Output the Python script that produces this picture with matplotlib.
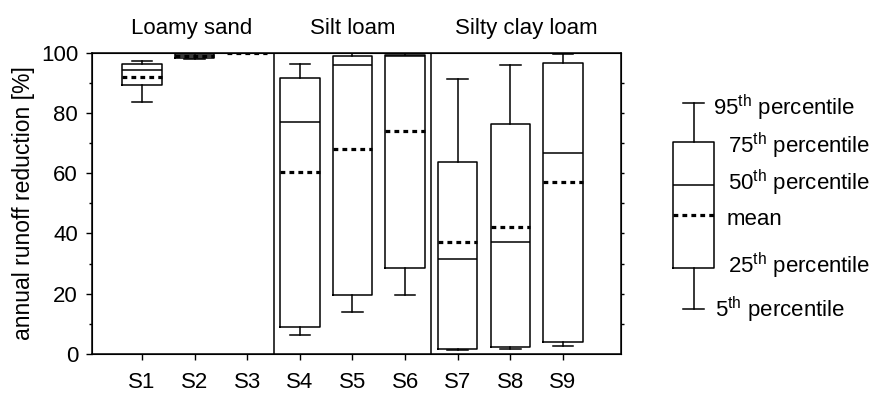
import matplotlib
matplotlib.use("Agg")
import matplotlib.pyplot as plt
import numpy as np

plt.rcParams['font.family'] = ['Liberation Sans', 'DejaVu Sans']
plt.rcParams['mathtext.fontset'] = 'custom'
plt.rcParams['mathtext.rm'] = 'Liberation Sans'
plt.rcParams['mathtext.it'] = 'Liberation Sans'

# ---- data ----
sites = ["S1", "S2", "S3", "S4", "S5", "S6", "S7", "S8", "S9"]
p5 = [83.5, 97.8, 99.8, 6.4, 13.9, 19.5, 1.2, 1.8, 2.8]
p25 = [89.3, 98.1, 99.8, 9.1, 19.7, 28.4, 1.8, 2.4, 4.0]
p50 = [94.3, 99.0, 100.0, 77.1, 95.8, 99.0, 31.5, 37.2, 66.6]
p75 = [96.2, 99.6, 100.0, 91.7, 99.0, 99.3, 63.8, 76.2, 96.6]
p95 = [97.2, 99.8, 100.0, 96.2, 99.8, 99.8, 91.2, 95.9, 99.7]
means = [92.0, 99.0, 99.9, 60.4, 68.1, 74.1, 37.2, 42.1, 57.2]
groups = ["Loamy sand", "Silt loam", "Silty clay loam"]
group_sizes = [3, 3, 3]
group_label_x = [1.95, 5.0, 8.3]

# legend key values (schematic box)
key_stats = dict(whislo=5, q1=23, med=59, mean=46, q3=78, whishi=95)
key_labels = ["95$^{\\mathrm{th}}$ percentile", "75$^{\\mathrm{th}}$ percentile",
              "50$^{\\mathrm{th}}$ percentile", "mean",
              "25$^{\\mathrm{th}}$ percentile", "5$^{\\mathrm{th}}$ percentile"]
key_text_x = [53, 68, 68, 67, 68, 55]
key_text_y = [89.7, 73.0, 56.7, 41.7, 20.6, 1.4]

FS = 16
fig = plt.figure(figsize=(8.7, 3.97), dpi=100)
ax = fig.add_axes([0.1057, 0.1083, 0.608, 0.759])

boxprops = dict(color='black', linewidth=1.1)
lineprops = dict(color='black', linewidth=1.1)
meanprops = dict(color='black', linewidth=2.3, linestyle=(0, (1.5, 1.3)))

stats = []
for i in range(len(sites)):
    stats.append(dict(whislo=p5[i], q1=p25[i], med=p50[i], q3=p75[i],
                      whishi=p95[i], mean=means[i], fliers=[]))
pos = np.arange(1, len(sites) + 1)
ax.bxp(stats, positions=pos, widths=0.75, showmeans=True, meanline=True,
       showfliers=False, boxprops=boxprops, whiskerprops=lineprops,
       capprops=lineprops, medianprops=lineprops, meanprops=meanprops,
       capwidths=0.39)

ax.set_xlim(0.05, 10.1)
ax.set_ylim(0, 100)
ax.set_xticks(pos)
ax.set_xticklabels(sites, fontsize=FS)
ax.set_yticks(np.arange(0, 101, 20))
ax.set_yticks(np.arange(10, 100, 20), minor=True)
ax.tick_params(axis='y', which='major', length=4, width=1, labelsize=FS, direction='out', pad=6)
ax.tick_params(axis='y', which='minor', length=2.5, width=1, direction='out')
ax.tick_params(axis='x', length=4, width=1, labelsize=FS, pad=9)
for s in ax.spines.values():
    s.set_linewidth(1.1)
ax.set_ylabel("annual runoff reduction [%]", fontsize=16.5, labelpad=4)

# right side ticks
axr = ax.twinx()
axr.set_ylim(0, 100)
axr.set_yticks(np.arange(10, 100, 10))
axr.tick_params(axis='y', length=2.5, width=1, labelright=False)

# group dividers and titles
edges = np.cumsum(group_sizes)
for e in edges[:-1]:
    ax.axvline(e + 0.5, color='black', linewidth=1.1)
for g, gx in zip(groups, group_label_x):
    ax.text(gx, 1.062, g, transform=ax.get_xaxis_transform(),
            ha='center', va='baseline', fontsize=FS)

# legend key
lax = fig.add_axes([0.7586, 0.193, 0.2414, 0.5766])
lax.set_xlim(0, 210)
lax.set_ylim(0, 100)
lax.axis('off')
kstats = [dict(key_stats, fliers=[])]
lax.bxp(kstats, positions=[34], widths=41, showmeans=True, meanline=True,
        showfliers=False, boxprops=boxprops, whiskerprops=lineprops,
        capprops=lineprops, medianprops=lineprops, meanprops=meanprops,
        capwidths=21)
for x, y, t in zip(key_text_x, key_text_y, key_labels):
    lax.text(x, y, t, fontsize=FS, ha='left', va='baseline', clip_on=False)

fig.savefig("out.png", dpi=100)
